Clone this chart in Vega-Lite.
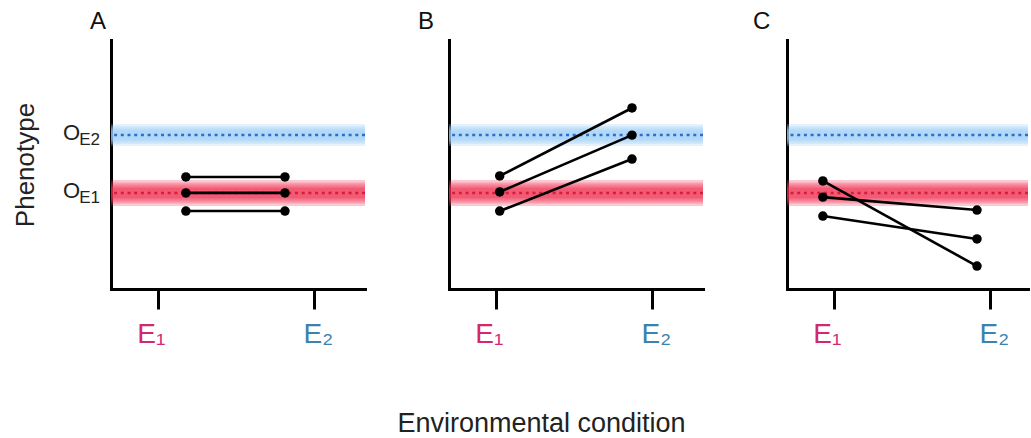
{
  "$schema": "https://vega.github.io/schema/vega-lite/v6.json",
  "padding": {"left": 12, "top": 10, "right": 0, "bottom": 0},
  "bounds": "flush",
  "spacing": 84,
  "background": "white",
  "datasets": {
    "bands": [
      {"level": "O_E2", "base": "O", "sub": "E2", "phenotype": 6.18},
      {"level": "O_E1", "base": "O", "sub": "E1", "phenotype": 3.86}
    ],
    "lines": [
      {"panel": "A", "genotype": "g1", "environment": 1.18, "phenotype": 4.50},
      {"panel": "A", "genotype": "g1", "environment": 1.815, "phenotype": 4.50},
      {"panel": "A", "genotype": "g2", "environment": 1.18, "phenotype": 3.86},
      {"panel": "A", "genotype": "g2", "environment": 1.815, "phenotype": 3.86},
      {"panel": "A", "genotype": "g3", "environment": 1.18, "phenotype": 3.13},
      {"panel": "A", "genotype": "g3", "environment": 1.815, "phenotype": 3.13},
      {"panel": "B", "genotype": "g1", "environment": 1.025, "phenotype": 4.54},
      {"panel": "B", "genotype": "g1", "environment": 1.873, "phenotype": 7.27},
      {"panel": "B", "genotype": "g2", "environment": 1.025, "phenotype": 3.90},
      {"panel": "B", "genotype": "g2", "environment": 1.873, "phenotype": 6.18},
      {"panel": "B", "genotype": "g3", "environment": 1.025, "phenotype": 3.13},
      {"panel": "B", "genotype": "g3", "environment": 1.873, "phenotype": 5.22},
      {"panel": "C", "genotype": "g1", "environment": 0.93, "phenotype": 4.34},
      {"panel": "C", "genotype": "g1", "environment": 1.918, "phenotype": 0.92},
      {"panel": "C", "genotype": "g2", "environment": 0.93, "phenotype": 3.69},
      {"panel": "C", "genotype": "g2", "environment": 1.918, "phenotype": 3.17},
      {"panel": "C", "genotype": "g3", "environment": 0.93, "phenotype": 2.93},
      {"panel": "C", "genotype": "g3", "environment": 1.918, "phenotype": 2.01}
    ]
  },
  "config": {
    "view": {"stroke": null},
    "font": "Liberation Sans",
    "axis": {"domainColor": "black", "domainWidth": 3, "domainCap": "square", "grid": false},
    "axisX": {"tickColor": "black", "tickWidth": 3, "tickSize": 20, "labelFontSize": 28, "labelPadding": 11, "labelFont": "Liberation Sans"},
    "axisY": {"ticks": false, "labels": false, "titleFontSize": 26, "titleFontWeight": "normal", "titleColor": "#222", "titlePadding": 73},
    "title": {"fontSize": 24, "fontWeight": "normal", "anchor": "start", "frame": "group", "baseline": "alphabetic", "offset": 6, "color": "#111"}
  },
  "hconcat": [
    {
      "width": 254, "height": 249,
      "title": {"text": "A", "dx": -21},
      "encoding": {"y": {"field": "phenotype", "type": "quantitative", "scale": {"domain": [0, 10], "nice": false, "zero": false}, "axis": {"title": "Phenotype"}}},
      "layer": [
        {"data": {"name": "bands"}, "mark": {"type": "rule", "opacity": 0.27}, "encoding": {"strokeWidth": {"condition": {"test": "datum.level == 'O_E1'", "value": 26}, "value": 22}, "color": {"condition": {"test": "datum.level == 'O_E1'", "value": "#f03050"}, "value": "#9fd0f7"}}},
        {"data": {"name": "bands"}, "mark": {"type": "rule", "opacity": 0.27}, "encoding": {"strokeWidth": {"condition": {"test": "datum.level == 'O_E1'", "value": 21}, "value": 18}, "color": {"condition": {"test": "datum.level == 'O_E1'", "value": "#f03050"}, "value": "#9fd0f7"}}},
        {"data": {"name": "bands"}, "mark": {"type": "rule", "opacity": 0.27}, "encoding": {"strokeWidth": {"condition": {"test": "datum.level == 'O_E1'", "value": 17}, "value": 15}, "color": {"condition": {"test": "datum.level == 'O_E1'", "value": "#f03050"}, "value": "#9fd0f7"}}},
        {"data": {"name": "bands"}, "mark": {"type": "rule", "opacity": 0.27}, "encoding": {"strokeWidth": {"condition": {"test": "datum.level == 'O_E1'", "value": 13}, "value": 12}, "color": {"condition": {"test": "datum.level == 'O_E1'", "value": "#f03050"}, "value": "#9fd0f7"}}},
        {"data": {"name": "bands"}, "mark": {"type": "rule", "opacity": 0.27}, "encoding": {"strokeWidth": {"condition": {"test": "datum.level == 'O_E1'", "value": 10}, "value": 9}, "color": {"condition": {"test": "datum.level == 'O_E1'", "value": "#f03050"}, "value": "#9fd0f7"}}},
        {"data": {"name": "bands"}, "mark": {"type": "rule", "strokeWidth": 2.5, "strokeDash": [3, 3.7]}, "encoding": {"color": {"condition": {"test": "datum.level == 'O_E1'", "value": "#d41e3c"}, "value": "#2c6ed0"}}},
        {"data": {"name": "bands"}, "mark": {"type": "text", "fontSize": 22, "align": "right", "baseline": "alphabetic", "dx": -31, "dy": 5, "color": "#222"}, "encoding": {"x": {"datum": 0.7, "type": "quantitative", "scale": {"domain": [0.7, 2.328], "nice": false, "zero": false}, "axis": {"title": null, "values": [1, 2], "labelExpr": "datum.value == 1 ? 'E₁' : 'E₂'", "labelColor": {"condition": {"test": "datum.value == 1", "value": "#d4286e"}, "value": "#3c82aa"}, "labelOffset": {"condition": {"test": "datum.value == 1", "value": -7}, "value": 4}}}, "text": {"field": "base"}}},
        {"data": {"name": "bands"}, "mark": {"type": "text", "fontSize": 17, "align": "right", "baseline": "alphabetic", "dx": -11, "dy": 10, "color": "#222"}, "encoding": {"x": {"datum": 0.7, "type": "quantitative"}, "text": {"field": "sub"}}},
        {"data": {"name": "lines"}, "transform": [{"filter": "datum.panel == 'A'"}], "mark": {"type": "line", "color": "black", "strokeWidth": 2.6}, "encoding": {"x": {"field": "environment", "type": "quantitative"}, "detail": {"field": "genotype"}}},
        {"data": {"name": "lines"}, "transform": [{"filter": "datum.panel == 'A'"}], "mark": {"type": "circle", "color": "black", "size": 90, "opacity": 1}, "encoding": {"x": {"field": "environment", "type": "quantitative"}}}
      ]
    },
    {
      "width": 254, "height": 249,
      "title": {"text": "B", "dx": -31},
      "encoding": {"y": {"field": "phenotype", "type": "quantitative", "scale": {"domain": [0, 10], "nice": false, "zero": false}, "axis": {"title": null}}},
      "layer": [
        {"data": {"name": "bands"}, "mark": {"type": "rule", "opacity": 0.27}, "encoding": {"strokeWidth": {"condition": {"test": "datum.level == 'O_E1'", "value": 26}, "value": 22}, "color": {"condition": {"test": "datum.level == 'O_E1'", "value": "#f03050"}, "value": "#9fd0f7"}}},
        {"data": {"name": "bands"}, "mark": {"type": "rule", "opacity": 0.27}, "encoding": {"strokeWidth": {"condition": {"test": "datum.level == 'O_E1'", "value": 21}, "value": 18}, "color": {"condition": {"test": "datum.level == 'O_E1'", "value": "#f03050"}, "value": "#9fd0f7"}}},
        {"data": {"name": "bands"}, "mark": {"type": "rule", "opacity": 0.27}, "encoding": {"strokeWidth": {"condition": {"test": "datum.level == 'O_E1'", "value": 17}, "value": 15}, "color": {"condition": {"test": "datum.level == 'O_E1'", "value": "#f03050"}, "value": "#9fd0f7"}}},
        {"data": {"name": "bands"}, "mark": {"type": "rule", "opacity": 0.27}, "encoding": {"strokeWidth": {"condition": {"test": "datum.level == 'O_E1'", "value": 13}, "value": 12}, "color": {"condition": {"test": "datum.level == 'O_E1'", "value": "#f03050"}, "value": "#9fd0f7"}}},
        {"data": {"name": "bands"}, "mark": {"type": "rule", "opacity": 0.27}, "encoding": {"strokeWidth": {"condition": {"test": "datum.level == 'O_E1'", "value": 10}, "value": 9}, "color": {"condition": {"test": "datum.level == 'O_E1'", "value": "#f03050"}, "value": "#9fd0f7"}}},
        {"data": {"name": "bands"}, "mark": {"type": "rule", "strokeWidth": 2.5, "strokeDash": [3, 3.7]}, "encoding": {"color": {"condition": {"test": "datum.level == 'O_E1'", "value": "#d41e3c"}, "value": "#2c6ed0"}}},
        {"data": {"name": "lines"}, "transform": [{"filter": "datum.panel == 'B'"}], "mark": {"type": "line", "color": "black", "strokeWidth": 2.6}, "encoding": {"x": {"field": "environment", "type": "quantitative", "scale": {"domain": [0.7, 2.328], "nice": false, "zero": false}, "axis": {"title": "Environmental condition", "titleFontSize": 27, "titleFontWeight": "normal", "titleColor": "#222", "titleX": 92, "titleY": 142, "titleAlign": "center", "titleBaseline": "alphabetic", "values": [1, 2], "labelExpr": "datum.value == 1 ? 'E₁' : 'E₂'", "labelColor": {"condition": {"test": "datum.value == 1", "value": "#d4286e"}, "value": "#3c82aa"}, "labelOffset": {"condition": {"test": "datum.value == 1", "value": -7}, "value": 4}}}, "detail": {"field": "genotype"}}},
        {"data": {"name": "lines"}, "transform": [{"filter": "datum.panel == 'B'"}], "mark": {"type": "circle", "color": "black", "size": 90, "opacity": 1}, "encoding": {"x": {"field": "environment", "type": "quantitative"}}}
      ]
    },
    {
      "width": 241, "height": 249,
      "title": {"text": "C", "dx": -34},
      "encoding": {"y": {"field": "phenotype", "type": "quantitative", "scale": {"domain": [0, 10], "nice": false, "zero": false}, "axis": {"title": null}}},
      "layer": [
        {"data": {"name": "bands"}, "mark": {"type": "rule", "opacity": 0.27}, "encoding": {"strokeWidth": {"condition": {"test": "datum.level == 'O_E1'", "value": 26}, "value": 22}, "color": {"condition": {"test": "datum.level == 'O_E1'", "value": "#f03050"}, "value": "#9fd0f7"}}},
        {"data": {"name": "bands"}, "mark": {"type": "rule", "opacity": 0.27}, "encoding": {"strokeWidth": {"condition": {"test": "datum.level == 'O_E1'", "value": 21}, "value": 18}, "color": {"condition": {"test": "datum.level == 'O_E1'", "value": "#f03050"}, "value": "#9fd0f7"}}},
        {"data": {"name": "bands"}, "mark": {"type": "rule", "opacity": 0.27}, "encoding": {"strokeWidth": {"condition": {"test": "datum.level == 'O_E1'", "value": 17}, "value": 15}, "color": {"condition": {"test": "datum.level == 'O_E1'", "value": "#f03050"}, "value": "#9fd0f7"}}},
        {"data": {"name": "bands"}, "mark": {"type": "rule", "opacity": 0.27}, "encoding": {"strokeWidth": {"condition": {"test": "datum.level == 'O_E1'", "value": 13}, "value": 12}, "color": {"condition": {"test": "datum.level == 'O_E1'", "value": "#f03050"}, "value": "#9fd0f7"}}},
        {"data": {"name": "bands"}, "mark": {"type": "rule", "opacity": 0.27}, "encoding": {"strokeWidth": {"condition": {"test": "datum.level == 'O_E1'", "value": 10}, "value": 9}, "color": {"condition": {"test": "datum.level == 'O_E1'", "value": "#f03050"}, "value": "#9fd0f7"}}},
        {"data": {"name": "bands"}, "mark": {"type": "rule", "strokeWidth": 2.5, "strokeDash": [3, 3.7]}, "encoding": {"color": {"condition": {"test": "datum.level == 'O_E1'", "value": "#d41e3c"}, "value": "#2c6ed0"}}},
        {"data": {"name": "lines"}, "transform": [{"filter": "datum.panel == 'C'"}], "mark": {"type": "line", "color": "black", "strokeWidth": 2.6}, "encoding": {"x": {"field": "environment", "type": "quantitative", "scale": {"domain": [0.7, 2.245], "nice": false, "zero": false}, "axis": {"title": null, "values": [1, 2], "labelExpr": "datum.value == 1 ? 'E₁' : 'E₂'", "labelColor": {"condition": {"test": "datum.value == 1", "value": "#d4286e"}, "value": "#3c82aa"}, "labelOffset": {"condition": {"test": "datum.value == 1", "value": -7}, "value": 4}}}, "detail": {"field": "genotype"}}},
        {"data": {"name": "lines"}, "transform": [{"filter": "datum.panel == 'C'"}], "mark": {"type": "circle", "color": "black", "size": 90, "opacity": 1}, "encoding": {"x": {"field": "environment", "type": "quantitative"}}}
      ]
    }
  ]
}
